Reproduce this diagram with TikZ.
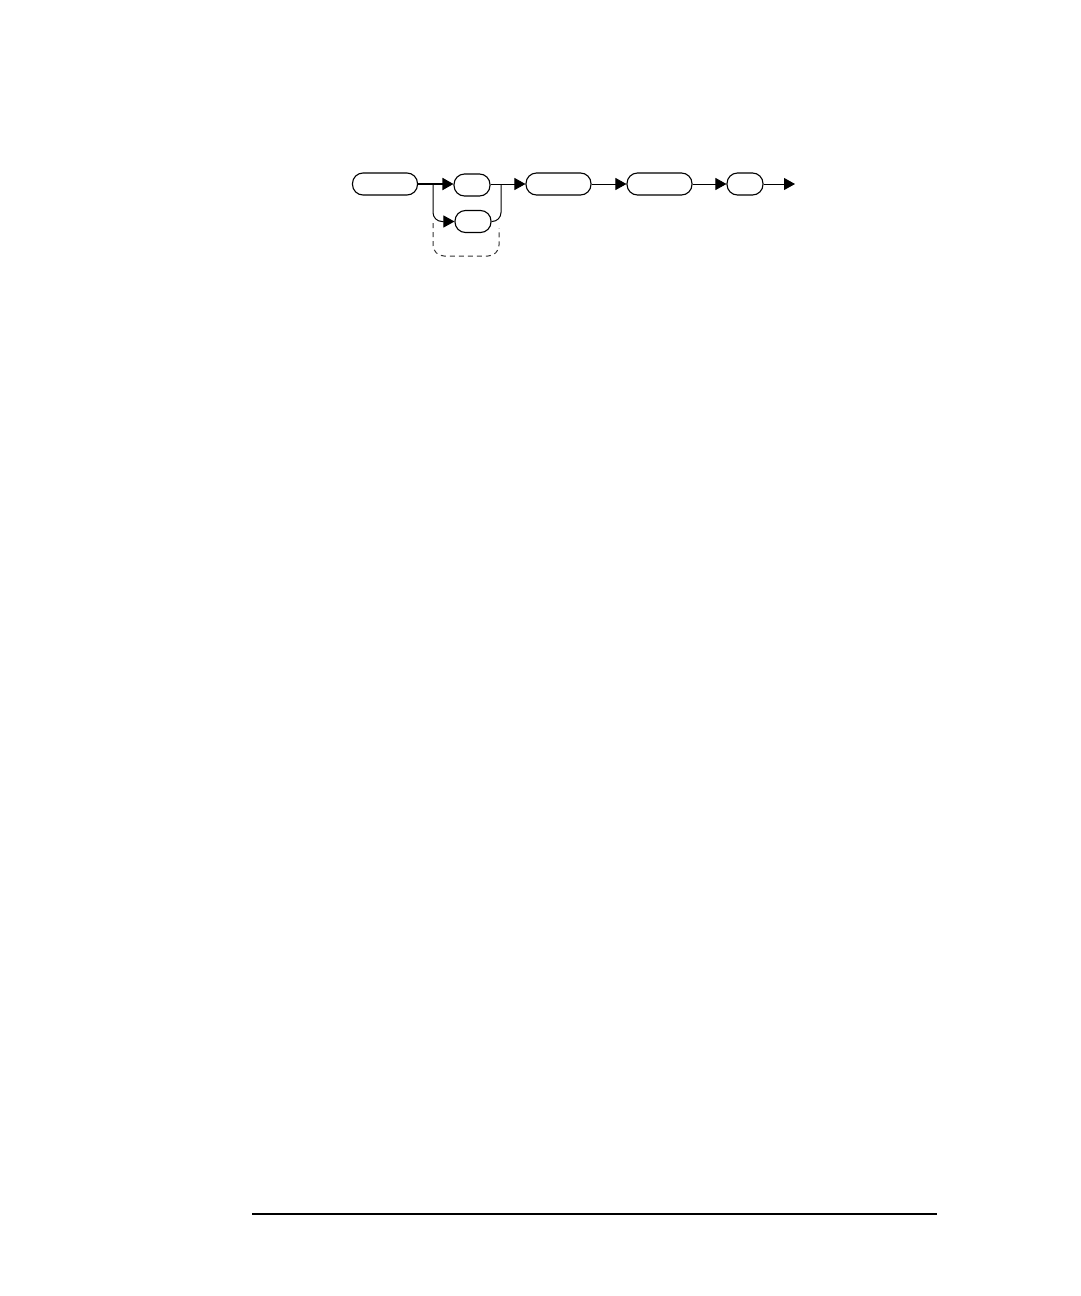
\documentclass[tikz,border=0pt]{standalone}
\usetikzlibrary{arrows.meta}
\begin{document}
\begin{tikzpicture}[x=1pt,y=-1pt,
  termbox/.style={draw, line width=1.1pt, rounded corners=10.5pt, inner sep=0pt, minimum height=22pt},
  wide/.style={termbox, minimum width=65pt},
  narrow/.style={termbox, minimum width=36pt},
  conn/.style={line width=1pt, -{Triangle[length=11pt,width=12pt]}},
  plain/.style={line width=1pt},
  opt/.style={line width=1pt, dash pattern=on 5pt off 4pt, rounded corners=11pt, draw=black!80}
]
\useasboundingbox (0,0) rectangle (1080,1296);
\node[wide] (b1) at (385,184) {};
\node[narrow] (b2) at (472,185) {};
\node[narrow] (b4) at (473,221.5) {};
\node[wide] (b3) at (558.5,184) {};
\node[wide] (b5) at (659.5,184) {};
\node[narrow] (b6) at (745,184) {};
\coordinate (j1) at (433,184);
\coordinate (j2) at (501,184);
\coordinate (fin) at (795,184);
\coordinate (d1) at (433,223);
\coordinate (d2) at (499,228);
\draw[conn, line width=1.8pt] (b1.east) -- (b2.west |- b1.east);
\draw[conn, rounded corners=9pt] (j1) |- (b4.west);
\draw[plain] (b2.east |- j2) -- (j2);
\draw[conn] (j2) -- (b3.west);
\draw[plain, rounded corners=9pt] (b4.east) -| (j2);
\draw[opt] (d1) -- (433,256) -- (499,256) -- (d2);
\draw[conn] (b3.east) -- (b5.west);
\draw[conn] (b5.east) -- (b6.west);
\draw[conn] (b6.east) -- (fin);
\coordinate (r1) at (252,1214);
\coordinate (r2) at (937,1214);
\draw[line width=1.4pt] (r1) -- (r2);
\end{tikzpicture}
\end{document}
